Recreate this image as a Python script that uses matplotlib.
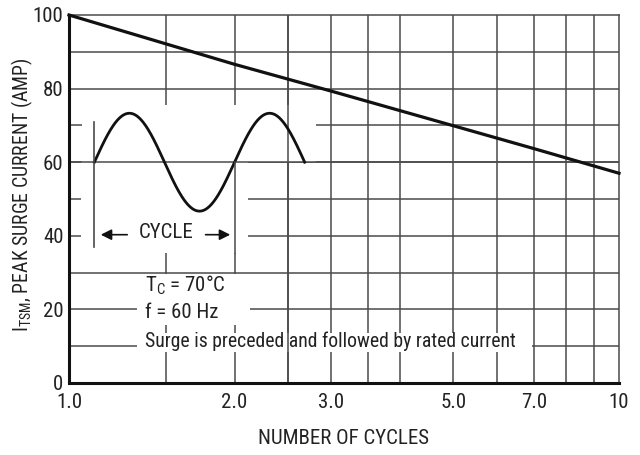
import matplotlib
matplotlib.use('Agg')
import matplotlib.pyplot as plt
import numpy as np
from matplotlib import font_manager as fm

# ---- data ----
cycles = [1.0, 2.0, 3.0, 5.0, 7.0, 10.0]
peak_current = [100.0, 86.6, 79.3, 69.9, 63.7, 57.0]

x_ticks = [1, 2, 3, 5, 7, 10]
x_tick_labels = ['1.0', '2.0', '3.0', '5.0', '7.0', '10']
y_ticks = [0, 20, 40, 60, 80, 100]
y_tick_labels = ['0', '20', '40', '60', '80', '100']
x_grid = [1.5, 2, 2.5, 3, 3.5, 4, 5, 6, 7, 8, 9]
y_grid = [10, 20, 30, 40, 50, 60, 70, 80, 90]

names = {f.name for f in fm.fontManager.ttflist}
prefs = ['Nimbus Sans Narrow', 'Liberation Sans Narrow', 'Arial Narrow', 'Roboto Condensed',
         'Archivo Narrow', 'PT Sans Narrow', 'Liberation Sans']
font = next(p for p in prefs if p in names)
plt.rcParams['font.family'] = [font, 'DejaVu Sans']
plt.rcParams['mathtext.fontset'] = 'custom'
plt.rcParams['mathtext.rm'] = font
plt.rcParams['mathtext.it'] = font
plt.rcParams['mathtext.default'] = 'rm'

TXT = '#222222'
GRID = '#4a4a4a'
FS = 15

fig = plt.figure(figsize=(6.4, 4.55), dpi=100)
ax = fig.add_axes([69/640, 1-383/455, 550/640, 368/455])
ax.set_xscale('log')
ax.set_xlim(1, 10)
ax.set_ylim(0, 100)

# grid
for xv in x_grid:
    ax.axvline(xv, color=GRID, lw=1.1, zorder=1)
for yv in y_grid:
    ax.axhline(yv, color=GRID, lw=1.1, zorder=1)

# white masks under inset drawing and notes
def mask(x0, x1, y0, y1):
    ax.fill([x0, x1, x1, x0], [y0, y0, y1, y1], color='white', lw=0, zorder=2)

mask(1.055, 2.81, 60, 75.5)
mask(1.05, 2.115, 35.3, 60)
mask(1.33, 2.13, 15.8, 29.6)
mask(1.33, 6.95, 8.4, 13.6)

# lines running through the inset
ax.axhline(60, color=GRID, lw=1.1, zorder=3)
ax.axvline(2.5, color=GRID, lw=1.1, zorder=3)

# inset waveform (schematic)
x_start, x_period_end = 1.112, 2.0
t = np.linspace(0, 1.5, 300)
lx0, lx1 = np.log10(x_start), np.log10(x_period_end)
wave_x = 10 ** (lx0 + t * (lx1 - lx0))
wave_y = 60 + 13.3 * np.sin(2 * np.pi * t)
ax.plot(wave_x, wave_y, color='#111111', lw=2.0, zorder=4)

ax.plot([x_start, x_start], [37, 71], color=GRID, lw=1.2, zorder=4)
ax.plot([x_period_end, x_period_end], [35.3, 60], color=GRID, lw=1.1, zorder=4)

ax.annotate('', xy=(1.129, 40.3), xytext=(1.291, 40.3),
            arrowprops=dict(arrowstyle='-|>', color='#111111', lw=1.2, mutation_scale=16), zorder=4)
ax.annotate('', xy=(1.987, 40.3), xytext=(1.751, 40.3),
            arrowprops=dict(arrowstyle='-|>', color='#111111', lw=1.2, mutation_scale=16), zorder=4)
ax.text(1.5, 39.4, 'CYCLE', ha='center', va='baseline', fontsize=FS, color=TXT, zorder=5)

ax.text(1.374, 24.8, r'T$_{\mathrm{C}}$ = 70°C', ha='left', va='baseline', fontsize=FS, color=TXT, zorder=5)
ax.text(1.374, 17.7, 'f = 60 Hz', ha='left', va='baseline', fontsize=FS, color=TXT, zorder=5)
ax.text(1.374, 9.8, 'Surge is preceded and followed by rated current', ha='left', va='baseline',
        fontsize=14.2, color=TXT, zorder=5)

# main curve
ax.plot(cycles, peak_current, color='#111111', lw=2.3, zorder=6, clip_on=False)

# axes styling
ax.set_xticks(x_ticks)
ax.set_xticklabels(x_tick_labels)
ax.xaxis.set_minor_locator(matplotlib.ticker.NullLocator())
ax.set_yticks(y_ticks)
ax.set_yticklabels(y_tick_labels)
ax.tick_params(axis='both', length=0, labelsize=FS, colors=TXT)
ax.tick_params(axis='x', pad=7)
ax.tick_params(axis='y', pad=4)
for s in ['left', 'bottom']:
    ax.spines[s].set_color('#111111')
    ax.spines[s].set_linewidth(2.2)
    ax.spines[s].set_zorder(7)
for s in ['top', 'right']:
    ax.spines[s].set_color(GRID)
    ax.spines[s].set_linewidth(1.1)

fig.text(343.5/640, 1-438/455, 'NUMBER OF CYCLES', ha='center', va='center', fontsize=FS, color=TXT)
fig.text(22/640, 1-195/455, r'I$_{\mathrm{TSM}}$, PEAK SURGE CURRENT (AMP)', rotation=90,
         ha='center', va='center', fontsize=14.2, color=TXT)

fig.savefig('out.png', dpi=100)
